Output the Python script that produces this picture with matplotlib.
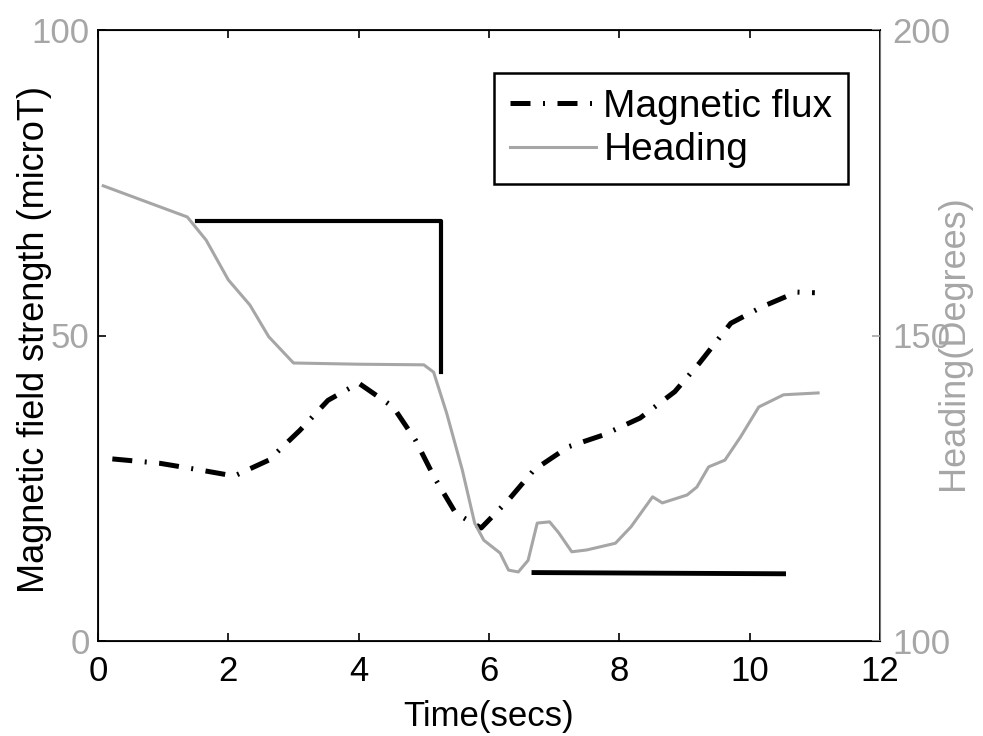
import matplotlib

matplotlib.use("Agg")
import matplotlib.pyplot as plt

plt.rcParams["font.family"] = ["Liberation Sans", "DejaVu Sans"]

# Magnetic flux (left axis, microT)
flux_t = [0.22, 0.94, 1.56, 2.09, 2.62, 3.1, 3.53, 4.0, 4.53, 4.87, 5.16, 5.49,
          5.88, 6.3, 6.69, 7.22, 7.75, 8.32, 8.85, 9.23, 9.71, 10.19, 10.72, 11.0]
flux_v = [29.8, 29.1, 28.0, 27.0, 29.6, 34.5, 39.4, 42.2, 38.3, 32.9, 26.8, 20.9,
          18.5, 23.1, 28.0, 31.8, 33.7, 36.5, 40.8, 45.5, 52.0, 54.7, 57.1, 57.0]

# Heading (right axis, degrees)
head_t = [0.08, 1.37, 1.66, 2.0, 2.33, 2.62, 3.0, 4.0, 5.0, 5.15, 5.35, 5.59,
          5.78, 5.92, 6.17, 6.3, 6.45, 6.6, 6.74, 6.93, 7.07, 7.27, 7.5, 7.94,
          8.18, 8.51, 8.66, 9.04, 9.19, 9.37, 9.62, 9.86, 10.14, 10.52, 11.05]
head_v = [174.5, 169.4, 165.6, 159.1, 155.0, 149.8, 145.5, 145.3, 145.2, 144.0,
          137.3, 128.0, 119.3, 116.5, 114.4, 111.6, 111.3, 113.2, 119.3, 119.5,
          117.7, 114.6, 114.9, 116.0, 118.7, 123.6, 122.6, 123.9, 125.2, 128.5,
          129.6, 133.4, 138.3, 140.3, 140.6]

# Marker lines drawn on the chart (left axis units)
mark1_t = [1.52, 5.26, 5.26]
mark1_v = [68.7, 68.7, 44.0]
mark2_t = [6.69, 10.52]
mark2_v = [11.2, 11.0]

gray = "#a6a6a6"

fig = plt.figure(figsize=(9.83, 7.36), dpi=100)
ax1 = fig.add_axes([98 / 983, 1 - 641 / 736, 782 / 983, 611 / 736])
ax2 = ax1.twinx()

l1, = ax1.plot(flux_t, flux_v, color="black", lw=3.6,
               dashes=(4, 2.5, 0.4, 2.5), label="Magnetic flux")
l2, = ax2.plot(head_t, head_v, color=gray, lw=2.2, label="Heading")
ax1.plot(mark1_t, mark1_v, color="black", lw=3)
ax1.plot(mark2_t, mark2_v, color="black", lw=3.5)

ax1.set_xlim(0, 12)
ax1.set_ylim(0, 100)
ax2.set_ylim(100, 200)
ax1.set_xticks([0, 2, 4, 6, 8, 10, 12])
ax1.set_yticks([0, 50, 100])
ax2.set_yticks([100, 150, 200])

ax1.tick_params(axis="x", direction="in", top=True, labelsize=25, pad=10,
                length=6, width=1.2)
ax1.tick_params(axis="y", direction="in", labelsize=25, pad=6, length=6,
                width=1.2, labelcolor=gray)
ax2.tick_params(axis="y", direction="in", labelsize=25, pad=9, length=6,
                width=1.2, colors=gray)
for s in ax1.spines.values():
    s.set_linewidth(1.3)
ax2.spines["right"].set_color("#777777")

ax1.set_xlabel("Time(secs)", fontsize=25)
ax1.xaxis.set_label_coords(0.5, -0.097)
ax1.set_ylabel("Magnetic field strength (microT)", fontsize=26)
ax1.yaxis.set_label_coords(-0.059, 0.493)
ax2.set_ylabel("Heading(Degrees)", fontsize=26, color=gray)
ax2.yaxis.set_label_coords(1.072, 0.489)

leg = ax1.legend([l1, l2], ["Magnetic flux", "Heading"], loc="upper right",
                 bbox_to_anchor=(848 / 983, 1 - 73 / 736),
                 bbox_transform=fig.transFigure, fontsize=28,
                 handlelength=2.2, handletextpad=0.2, borderaxespad=0,
                 labelspacing=0.2, fancybox=False, framealpha=1)
leg.get_frame().set_edgecolor("black")
leg.get_frame().set_linewidth(1.8)

fig.savefig("out.png", dpi=100)
